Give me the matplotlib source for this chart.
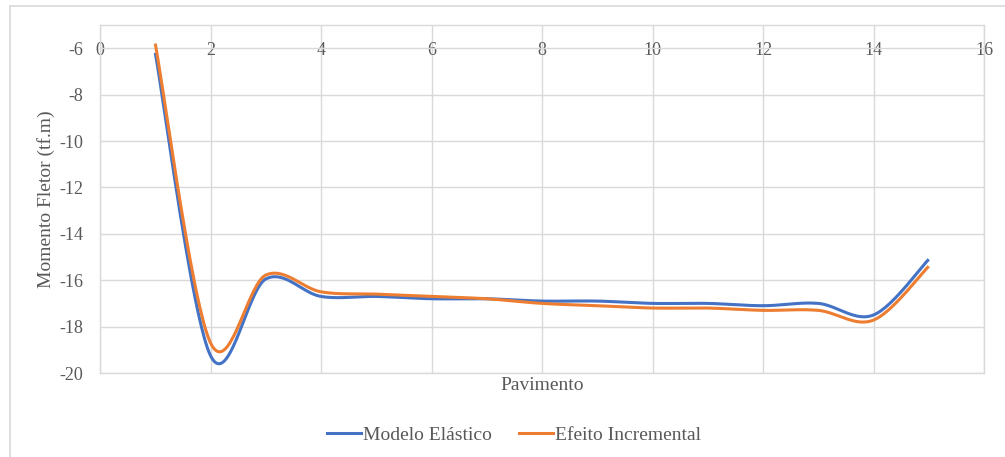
import numpy as np
import matplotlib
matplotlib.use("Agg")
import matplotlib.pyplot as plt
from matplotlib.lines import Line2D

# pavimento (floor) numbers and bending moments
pavimento = [1, 2, 3, 4, 5, 6, 7, 8, 9, 10, 11, 12, 13, 14, 15]
modelo_elastico = [-6.2, -19.25, -15.95, -16.7, -16.7, -16.8, -16.8, -16.9,
                   -16.9, -17.0, -17.0, -17.1, -17.0, -17.5, -15.1]
efeito_incremental = [-5.8, -18.7, -15.78, -16.5, -16.6, -16.7, -16.8, -17.0,
                      -17.1, -17.2, -17.2, -17.3, -17.3, -17.72, -15.4]
x_ticks = [0, 2, 4, 6, 8, 10, 12, 14, 16]
y_ticks = [-20, -18, -16, -14, -12, -10, -8, -6]

BLUE = '#4472C4'
ORANGE = '#ED7D31'
GRID = '#D9D9D9'
TEXT = '#595959'

plt.rcParams['font.family'] = ['Liberation Serif', 'DejaVu Serif']
plt.rcParams['axes.unicode_minus'] = False


def excel_smooth(x, y, n=40):
    # bezier smoothing like excel's "smoothed line"
    p = np.column_stack([x, y]).astype(float)
    out = [p[0]]
    t = np.linspace(0, 1, n)[1:, None]
    for i in range(len(p) - 1):
        prev = p[i - 1] if i > 0 else p[i]
        nxt = p[i + 2] if i + 2 < len(p) else p[i + 1]
        c1 = p[i] + (p[i + 1] - prev) / 6
        c2 = p[i + 1] - (nxt - p[i]) / 6
        seg = ((1 - t) ** 3) * p[i] + 3 * ((1 - t) ** 2) * t * c1 \
            + 3 * (1 - t) * t ** 2 * c2 + t ** 3 * p[i + 1]
        out.extend(seg)
    out = np.array(out)
    return out[:, 0], out[:, 1]


fig = plt.figure(figsize=(10.05, 4.57), dpi=100)
ax = fig.add_axes([100 / 1005, 1 - 373 / 457, 884 / 1005, 348 / 457])

for vals, col, name in [(modelo_elastico, BLUE, 'Modelo Elástico'),
                        (efeito_incremental, ORANGE, 'Efeito Incremental')]:
    sx, sy = excel_smooth(pavimento, vals)
    ax.plot(sx, sy, color=col, lw=2.2, label=name, solid_capstyle='butt')

ax.set_xlim(0, 16)
ax.set_ylim(-20, -5)
ax.set_xticks(x_ticks)
ax.set_yticks(y_ticks)
ax.grid(True, color=GRID, lw=1.0)
ax.set_axisbelow(True)

for s in ['top', 'left', 'right']:
    ax.spines[s].set_color(GRID)
    ax.spines[s].set_linewidth(1.0)
ax.spines['bottom'].set_position(('data', -6))
ax.spines['bottom'].set_visible(False)
ax.axhline(-20, color=GRID, lw=1.0, clip_on=False, zorder=0.5)

ax.tick_params(axis='both', length=0, labelsize=13, labelcolor=TEXT)
ax.tick_params(axis='x', pad=-4.5)
ax.tick_params(axis='y', pad=12)

ax.set_ylabel('Momento Fletor (tf.m)', fontsize=14, color=TEXT, labelpad=3)
fig.text(542 / 1005, 1 - 386 / 457, 'Pavimento', ha='center', va='center',
         fontsize=14, color=TEXT)

handles = [Line2D([], [], color=BLUE, lw=2.2), Line2D([], [], color=ORANGE, lw=2.2)]
fig.legend(handles, ['Modelo Elástico', 'Efeito Incremental'], loc='center',
           bbox_to_anchor=(514 / 1005, 1 - 435 / 457), ncol=2, frameon=False,
           fontsize=14, handlelength=1.75, handletextpad=0.1, columnspacing=1.4,
           labelcolor=TEXT)

# outer chart border (top and left edges visible in the crop)
fig.add_artist(Line2D([10 / 1005, 1.0], [1 - 6 / 457, 1 - 6 / 457],
                      transform=fig.transFigure, color=GRID, lw=1.2))
fig.add_artist(Line2D([10 / 1005, 10 / 1005], [0, 1 - 6 / 457],
                      transform=fig.transFigure, color=GRID, lw=1.2))

fig.savefig('out.png', dpi=100)
